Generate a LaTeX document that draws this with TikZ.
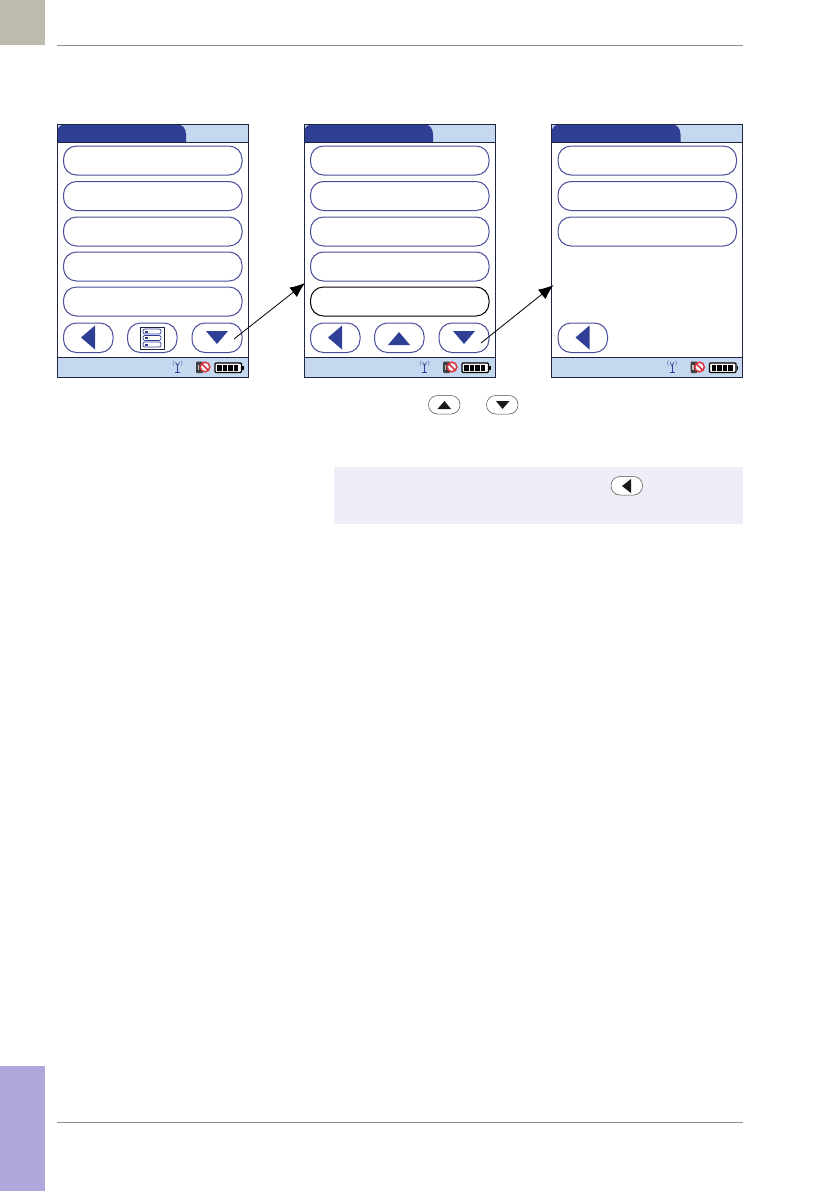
\documentclass[tikz,border=0pt]{standalone}
\usetikzlibrary{arrows.meta}
\definecolor{navy}{HTML}{2F3F96}
\definecolor{barblue}{HTML}{C5D8EF}
\definecolor{edge}{HTML}{1F2440}
\definecolor{btnline}{HTML}{4A4F9A}
\definecolor{rulegrey}{HTML}{8F8F8F}
\definecolor{notebg}{HTML}{EEEDF8}
\definecolor{cornergrey}{HTML}{BDBBB0}
\definecolor{tabpurple}{HTML}{AFA8DB}
\definecolor{nored}{HTML}{D8343F}
\tikzset{
  pill/.style={draw=btnline,line width=1pt,fill=white,rounded corners=13pt},
  smallpill/.style={draw=black!70,line width=0.5pt,fill=white,rounded corners=9pt},
  glyph/.style={fill=navy,draw=none},
  smallglyph/.style={fill=black!90,draw=none},
  frameline/.style={draw=edge,line width=0.9pt},
  pagerule/.style={draw=rulegrey,line width=0.8pt},
  flow/.style={draw=black,line width=0.8pt,-{Latex[length=15pt,width=12pt]}}
}
\newcommand{\statusicons}{%
  \draw[navy,line width=0.6pt] (120.5,240) -- (120.5,248.5);
  \draw[navy,line width=0.6pt] (118,248.5) -- (123,248.5);
  \draw[navy,line width=0.5pt] (118.5,238) -- (120.5,242) -- (122.5,238);
  \draw[navy!70,line width=0.5pt] (117,236.5) .. controls (115.5,238) and (115.5,240) .. (117,241.5);
  \draw[navy!70,line width=0.5pt] (124,236.5) .. controls (125.5,238) and (125.5,240) .. (124,241.5);
  \fill[black!75,rounded corners=1pt] (139,237.5) rectangle (146,249);
  \fill[black!25] (140.5,241) rectangle (142,246);
  \draw[nored,fill=white,line width=1.5pt] (148,243) circle (4.8pt);
  \draw[nored,line width=1.5pt] (144.6,239.6) -- (151.4,246.4);
  \draw[black,fill=white,line width=1.1pt,rounded corners=1pt] (158,239) rectangle (184.5,248.5);
  \fill[black] (185,241.5) rectangle (186.5,246);
  \foreach \bx in {160.3,165.8,171.3,176.8}{\fill[black] (\bx,240.5) rectangle ++(4.6,6.5);}
}
\newcommand{\screenbase}{%
  \fill[white] (0,0) rectangle (191,253);
  \fill[barblue] (0,0) rectangle (191,18);
  \fill[navy] (0,18) -- (0,9) .. controls (0,3) and (4,0) .. (10,0) -- (119,0) .. controls (125,0) and (129,4) .. (129,10) -- (129,18) -- cycle;
  \fill[barblue] (0,233) rectangle (191,253);
  \draw[frameline] (0,18) -- (191,18);
  \draw[frameline] (0,233) -- (191,233);
  \draw[frameline] (0,0) rectangle (191,253);
  \statusicons
}
\newcommand{\rowpill}[1]{\draw[pill] (6.5,#1) rectangle (185,#1+29);}
\newcommand{\leftbtn}{%
  \draw[pill] (6.5,199) rectangle (56,228.5);
  \fill[glyph] (24,213.5) -- (38,201.5) -- (38,225.5) -- cycle;}
\newcommand{\downbtn}{%
  \draw[pill] (135,199) rectangle (185,228.5);
  \fill[glyph] (149,207) -- (171,207) -- (160,220) -- cycle;}
\begin{document}
\begin{tikzpicture}[x=1pt,y=-1pt]
\useasboundingbox (0,0) rectangle (839,1191);
\fill[white] (0,0) rectangle (839,1191);
% page furniture
\fill[cornergrey] (0,0) rectangle (45,45);
\fill[tabpurple] (0,1066) rectangle (45,1191);
\draw[pagerule] (57,45) -- (743,45);
\draw[pagerule] (57,1122) -- (743,1122);
% screen 1
\begin{scope}[shift={(57,124)}]
  \screenbase
  \foreach \ry in {22,57.5,93,128,163}{\rowpill{\ry}}
  \leftbtn
  \draw[pill] (70.5,199) rectangle (120,228.5);
  \draw[edge,line width=0.6pt] (83,203) rectangle (107,225);
  \foreach \ry in {205,211.5,218}{
    \draw[navy,line width=0.7pt,rounded corners=2pt] (86,\ry) rectangle (104,\ry+5);
    \fill[navy] (88,\ry+1.5) rectangle (91,\ry+3.5);}
  \downbtn
  \coordinate (start1) at (177,215);
\end{scope}
% screen 2
\begin{scope}[shift={(304,124)}]
  \screenbase
  \foreach \ry in {22,57.5,93,128}{\rowpill{\ry}}
  \draw[pill,draw=black] (6.5,163) rectangle (185,192);
  \leftbtn
  \draw[pill] (70.5,199) rectangle (120,228.5);
  \fill[glyph] (84,221) -- (106,221) -- (95,208) -- cycle;
  \downbtn
  \coordinate (end1) at (1,159);
  \coordinate (start2) at (177,219);
\end{scope}
% screen 3
\begin{scope}[shift={(551.5,124)}]
  \screenbase
  \foreach \ry in {22,57.5,93}{\rowpill{\ry}}
  \leftbtn
  \coordinate (end2) at (2,161);
\end{scope}
% connectors
\draw[flow] (start1) -- (end1);
\draw[flow] (start2) -- (end2);
% inline buttons
\draw[smallpill] (428.5,395.5) rectangle (460,414);
\fill[smallglyph] (437.5,409) -- (451,409) -- (444.5,401) -- cycle;
\draw[smallpill] (486.5,395.5) rectangle (518,414);
\fill[smallglyph] (496,401) -- (509.5,401) -- (502.5,409) -- cycle;
% note
\fill[notebg] (334,467) rectangle (743,524);
\draw[smallpill] (611,476.5) rectangle (642.5,495);
\fill[smallglyph] (622,486) -- (631,479) -- (631,493) -- cycle;
\end{tikzpicture}
\end{document}
